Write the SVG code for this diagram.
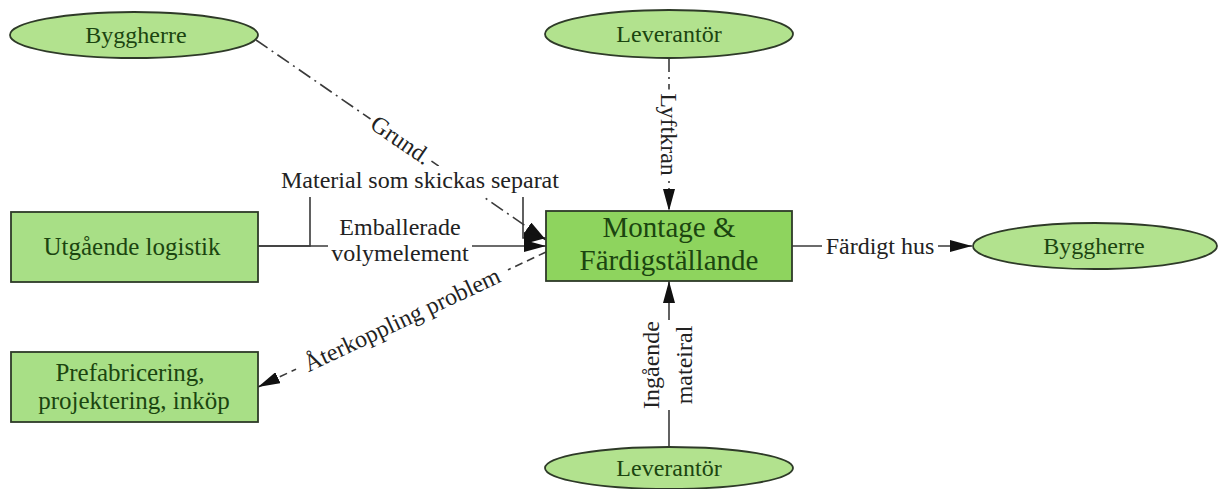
<svg xmlns="http://www.w3.org/2000/svg" width="1218" height="489" viewBox="0 0 1218 489">
  <style>
    .ell { fill: #b2e28e; stroke: #2e3a28; stroke-width: 1.8; }
    .box { fill: #a8df86; stroke: #2e3a28; stroke-width: 1.8; }
    .main { fill: #8ed45e; stroke: #2e3a28; stroke-width: 1.8; }
    .nt { font-family: "Liberation Serif", "Times New Roman", serif; font-size: 24px; fill: #1b4510; text-anchor: middle; }
    .bt { font-size: 25px; }
    .mt { font-size: 29px; }
    .edge { fill: none; stroke: #3a3a3a; stroke-width: 1.6; }
    .dashdot { stroke-dasharray: 14 5 2 5; }
    .dash { stroke-dasharray: 8 5; }
    .lbg { fill: #ffffff; }
    .lt { font-family: "Liberation Serif", "Times New Roman", serif; font-size: 24px; fill: #222222; text-anchor: middle; }
  </style>
  <defs>
    <marker id="arrow" markerUnits="userSpaceOnUse" markerWidth="22" markerHeight="12" refX="22" refY="6" orient="auto">
      <path d="M0,0 L22,6 L0,12 z" fill="#111111"/>
    </marker>
  </defs>

  <rect width="1218" height="489" fill="#ffffff"/>

  <!-- connectors -->
  <g id="connectors">
    <!-- Byggherre -> Montage (Grund.) -->
    <path class="edge dashdot" d="M256,40 L546,240" marker-end="url(#arrow)"/>
    <!-- Utgående logistik -> Montage (Material som skickas separat) -->
    <path class="edge" d="M258,246 H310 V181 H523 V238 H546" marker-end="url(#arrow)"/>
    <!-- Utgående logistik -> Montage (Emballerade volymelement) -->
    <path class="edge" d="M258,246 H546" marker-end="url(#arrow)"/>
    <!-- Montage -> Prefabricering (Återkoppling problem) -->
    <path class="edge dash" d="M546,252 L258,387" marker-end="url(#arrow)"/>
    <!-- Leverantör (top) -> Montage (Lyftkran) -->
    <path class="edge dashdot" d="M669,58 V211" marker-end="url(#arrow)"/>
    <!-- Leverantör (bottom) -> Montage (Ingående mateiral) -->
    <path class="edge" d="M669,447 V281" marker-end="url(#arrow)"/>
    <!-- Montage -> Byggherre (Färdigt hus) -->
    <path class="edge" d="M792,246 H972" marker-end="url(#arrow)"/>

    <!-- labels -->
    <g transform="translate(401,140) rotate(34.4)">
      <rect class="lbg" x="-37" y="-13" width="74" height="26"/>
      <text class="lt" x="0" y="8">Grund.</text>
    </g>
    <g>
      <rect class="lbg" x="268" y="166" width="304" height="31"/>
      <text class="lt" x="420" y="188">Material som skickas separat</text>
    </g>
    <g>
      <rect class="lbg" x="328" y="216" width="144" height="50"/>
      <text class="lt" x="400" y="235">Emballerade</text>
      <text class="lt" x="400" y="261">volymelement</text>
    </g>
    <g transform="translate(402,319.5) rotate(-25.1)">
      <rect class="lbg" x="-117" y="-13" width="234" height="26"/>
      <text class="lt" x="0" y="8">Återkoppling problem</text>
    </g>
    <g transform="translate(669,134.5) rotate(90)">
      <rect class="lbg" x="-45" y="-13" width="90" height="26"/>
      <text class="lt" x="0" y="8">Lyftkran</text>
    </g>
    <g transform="translate(669,365) rotate(-90)">
      <rect class="lbg" x="-45" y="-28" width="90" height="56"/>
      <text class="lt" x="0" y="-10">Ingående</text>
      <text class="lt" x="0" y="23">mateiral</text>
    </g>
    <g>
      <rect class="lbg" x="822" y="232" width="116" height="28"/>
      <text class="lt" x="880" y="254">Färdigt hus</text>
    </g>
  </g>

  <!-- nodes -->
  <g id="byggherre-top">
    <ellipse class="ell" cx="134" cy="35" rx="124" ry="23"/>
    <text class="nt" x="136" y="43">Byggherre</text>
  </g>
  <g id="leverantor-top">
    <ellipse class="ell" cx="669" cy="34" rx="124" ry="24"/>
    <text class="nt" x="669" y="42">Leverantör</text>
  </g>
  <g id="utgaende-logistik">
    <rect class="box" x="11" y="212" width="247" height="70"/>
    <text class="nt bt" x="132" y="255">Utgående logistik</text>
  </g>
  <g id="prefabricering">
    <rect class="box" x="11" y="352" width="247" height="70"/>
    <text class="nt bt" x="130" y="381">Prefabricering,</text>
    <text class="nt bt" x="134" y="409">projektering, inköp</text>
  </g>
  <g id="montage">
    <rect class="main" x="546" y="211" width="246" height="70"/>
    <text class="nt mt" x="669" y="237">Montage &amp;</text>
    <text class="nt mt" x="669" y="270">Färdigställande</text>
  </g>
  <g id="byggherre-right">
    <ellipse class="ell" cx="1095" cy="246" rx="122" ry="23"/>
    <text class="nt" x="1094" y="254">Byggherre</text>
  </g>
  <g id="leverantor-bottom">
    <ellipse class="ell" cx="669" cy="468" rx="124" ry="21"/>
    <text class="nt" x="669" y="476">Leverantör</text>
  </g>
</svg>
